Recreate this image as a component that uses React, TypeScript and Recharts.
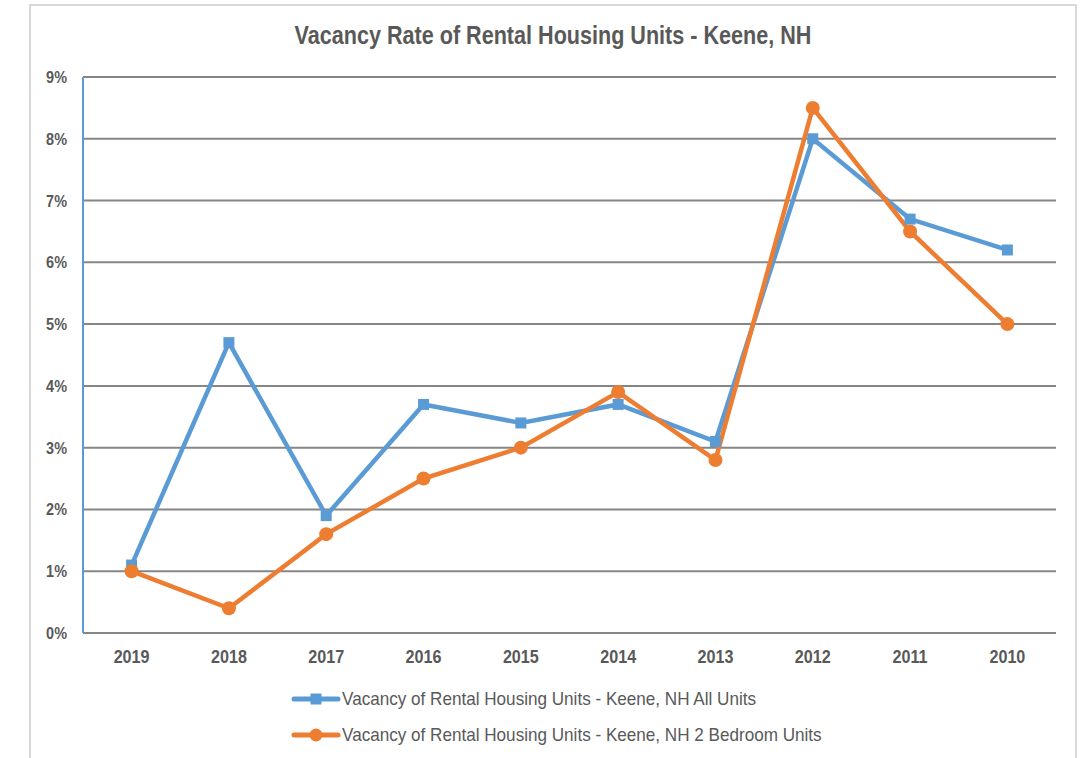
import { LineChart, Line, XAxis, YAxis, CartesianGrid } from "recharts";

const years = ["2019", "2018", "2017", "2016", "2015", "2014", "2013", "2012", "2011", "2010"];
const allUnits = [1.1, 4.7, 1.9, 3.7, 3.4, 3.7, 3.1, 8.0, 6.7, 6.2];
const twoBedroom = [1.0, 0.4, 1.6, 2.5, 3.0, 3.9, 2.8, 8.5, 6.5, 5.0];
const yTicks = [0, 1, 2, 3, 4, 5, 6, 7, 8, 9];

const seriesNames = {
  all: "Vacancy of Rental Housing Units - Keene, NH All Units",
  two: "Vacancy of Rental Housing Units - Keene, NH 2 Bedroom Units",
};

const BLUE = "#5B9BD5";
const ORANGE = "#ED7D31";
const TEXT = "#595959";
const FONT = "'Liberation Sans', Arial, sans-serif";

const data = years.map((year, i) => ({ year, all: allUnits[i], two: twoBedroom[i] }));

const SquareDot = (props: any) => {
  const { cx, cy } = props;
  if (cx == null || cy == null) return null;
  return <rect x={cx - 5.5} y={cy - 5.5} width={11} height={11} fill={BLUE} />;
};

const CircleDot = (props: any) => {
  const { cx, cy } = props;
  if (cx == null || cy == null) return null;
  return <circle cx={cx} cy={cy} r={7} fill={ORANGE} />;
};

// narrow-looking labels: regular font squeezed horizontally
const XTick = (props: any) => {
  const { x, y, payload } = props;
  return (
    <g transform={`translate(${x},${y})`}>
      <text transform="scale(0.85,1)" textAnchor="middle" dy="0.71em" fill={TEXT} fontSize={19} fontFamily={FONT} fontWeight="bold">
        {payload.value}
      </text>
    </g>
  );
};

const YTick = (props: any) => {
  const { x, y, payload } = props;
  return (
    <g transform={`translate(${x},${y})`}>
      <text transform="scale(0.85,1)" textAnchor="end" dy="0.355em" fill={TEXT} fontSize={17} fontFamily={FONT} fontWeight="bold">
        {`${payload.value}%`}
      </text>
    </g>
  );
};

function LegendBox() {
  const rows = [
    { name: seriesNames.all, color: BLUE, square: true },
    { name: seriesNames.two, color: ORANGE, square: false },
  ];
  return (
    <div style={{ fontFamily: FONT, fontSize: 19, color: TEXT }}>
      {rows.map((r) => (
        <div key={r.name} style={{ display: "flex", alignItems: "center", height: 36 }}>
          <svg width={50} height={16}>
            <line x1={3} y1={8} x2={47} y2={8} stroke={r.color} strokeWidth={5} strokeLinecap="round" />
            {r.square ? (
              <rect x={19.5} y={2.5} width={11} height={11} fill={r.color} />
            ) : (
              <circle cx={25} cy={8} r={6.5} fill={r.color} />
            )}
          </svg>
          <span
            style={{
              display: "inline-block",
              marginLeft: 1,
              transform: "scaleX(0.9)",
              transformOrigin: "left center",
              whiteSpace: "nowrap",
            }}
          >
            {r.name}
          </span>
        </div>
      ))}
    </div>
  );
}

export default function App() {
  return (
    <div style={{ position: "absolute", left: 0, top: 0, width: 1091, height: 758, background: "#fff", overflow: "hidden" }}>
      <div
        style={{
          position: "absolute",
          left: 29,
          top: 4,
          width: 1048,
          height: 770,
          border: "2px solid #d9d9d9",
          boxSizing: "border-box",
        }}
      />
      <div
        style={{
          position: "absolute",
          left: 0,
          top: 20,
          width: 1106,
          textAlign: "center",
          fontFamily: FONT,
          fontWeight: "bold",
          fontSize: 26,
          lineHeight: "30px",
          color: TEXT,
          transform: "scaleX(0.83)",
          transformOrigin: "553px 0",
        }}
      >
        Vacancy Rate of Rental Housing Units - Keene, NH
      </div>
      <div style={{ position: "absolute", left: 0, top: 0 }}>
        <LineChart width={1091} height={758} data={data} margin={{ top: 77, right: 35, left: 23, bottom: 95 }}>
          <CartesianGrid vertical={false} stroke="#868686" strokeWidth={2} />
          <XAxis
            dataKey="year"
            padding={{ left: 48.6, right: 48.6 }}
            axisLine={{ stroke: "#868686", strokeWidth: 2 }}
            tickLine={false}
            tickMargin={10}
            height={30}
            tick={<XTick />}
          />
          <YAxis
            domain={[0, 9]}
            ticks={yTicks}
            width={60}
            axisLine={{ stroke: BLUE, strokeWidth: 2 }}
            tickLine={false}
            tickMargin={10}
            tick={<YTick />}
          />
          <Line
            dataKey="all"
            name={seriesNames.all}
            stroke={BLUE}
            strokeWidth={4.5}
            dot={<SquareDot />}
            activeDot={false}
            isAnimationActive={false}
          />
          <Line
            dataKey="two"
            name={seriesNames.two}
            stroke={ORANGE}
            strokeWidth={4.5}
            dot={<CircleDot />}
            activeDot={false}
            isAnimationActive={false}
          />
        </LineChart>
      </div>
      <div style={{ position: "absolute", left: 291, top: 681 }}>
        <LegendBox />
      </div>
    </div>
  );
}
